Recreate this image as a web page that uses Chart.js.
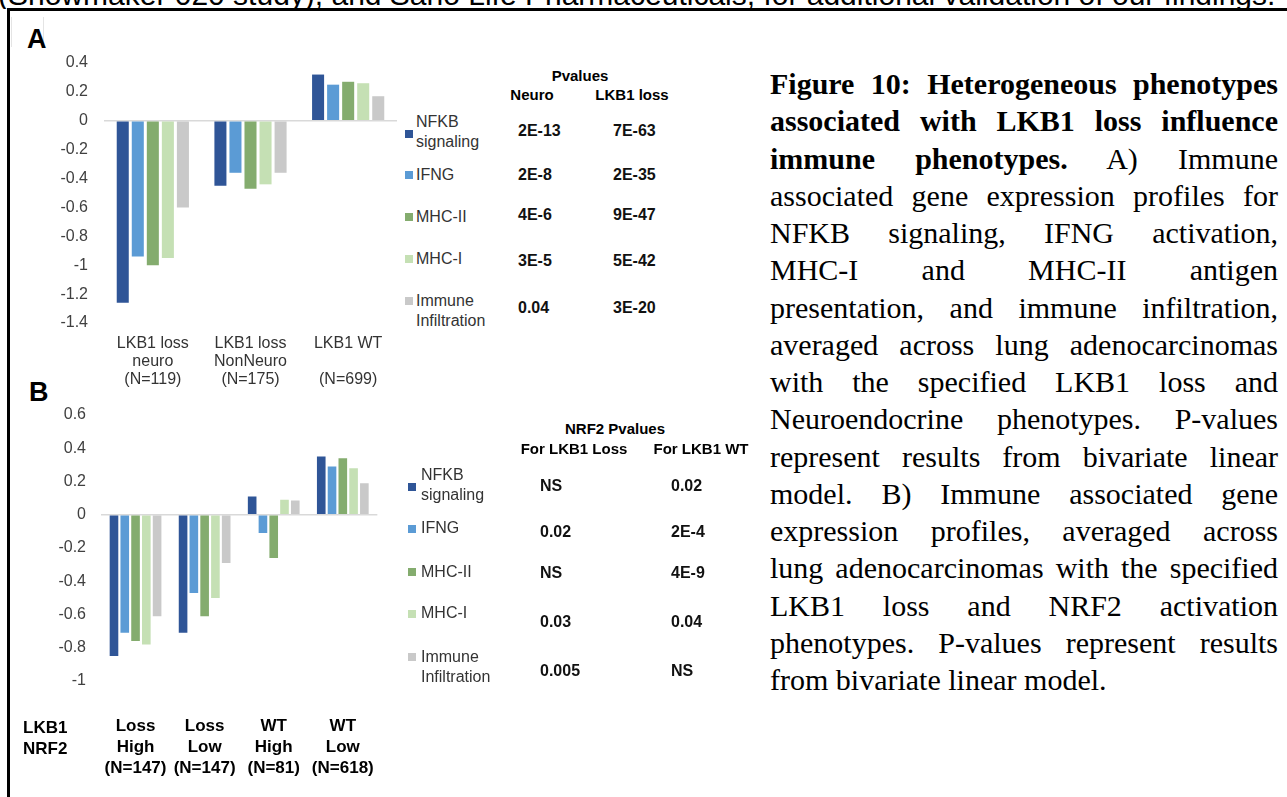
<!DOCTYPE html>
<html lang="en">
<head>
  <meta charset="UTF-8">
  <title>Figure 10: LKB1 loss and immune phenotypes</title>
  <style>
    body { margin: 0; width: 1287px; height: 797px; overflow: hidden; background: #fff; position: relative; font-family: "Liberation Sans", Arial, sans-serif; }
    .abs { position: absolute; }
    #topline { left: 0; top: 0; width: 1287px; height: 9px; overflow: hidden; }
    #topline span { position: absolute; left: -2px; top: -20px; font-size: 30px; line-height: 30px; white-space: nowrap; color: #000; }
    #frame { left: 7px; top: 8px; width: 1300px; height: 900px; border-top: 3px solid #000; border-left: 3px solid #000; }
    .panel { font-weight: bold; font-size: 27px; color: #000; }
    .boxedge { width: 1px; background: #e4e4e4; }
    .leg { font-size: 16px; line-height: 20px; color: #333; white-space: nowrap; }
    .sq { width: 8px; height: 8px; }
    .th { font-weight: bold; font-size: 15px; color: #000; white-space: nowrap; transform: translateX(-50%); }
    .pv { font-weight: bold; font-size: 16px; color: #111; white-space: nowrap; line-height: 20px; }
    .rowlab { font-weight: bold; font-size: 17px; line-height: 21px; color: #000; }
    #caption { left: 770px; top: 65px; width: 508px; font-family: "Liberation Serif", "Times New Roman", serif; font-size: 30px; line-height: 37.25px; color: #000; }
    #caption div { text-align: justify; text-align-last: justify; white-space: nowrap; }
    #caption div.last { text-align-last: left; }
  </style>
  <script src="https://cdn.jsdelivr.net/npm/chart.js@4.4.0/dist/chart.umd.min.js"></script>
</head>
<body>
  <div id="topline" class="abs"><span>(Snowmaker 020 study), and Sano Life Pharmaceuticals, for additional validation of our findings.</span></div>
  <div id="frame" class="abs"></div>

  <div class="abs boxedge" style="left:11px;top:17px;height:30px"></div>
  <div class="abs boxedge" style="left:43px;top:17px;height:30px"></div>
  <div class="abs boxedge" style="left:43px;top:383px;height:18px"></div>
  <div class="abs panel" style="left:27px;top:24px">A</div>
  <div class="abs panel" style="left:29px;top:377px">B</div>

  <canvas id="chartA" class="abs" width="385" height="345" style="left:20px;top:45px"></canvas>
  <canvas id="chartB" class="abs" width="390" height="384" style="left:20px;top:395px"></canvas>

  <div id="legA"></div>
  <div id="legB"></div>

  <div class="abs rowlab" style="left:23px;top:717px">LKB1<br>NRF2</div>

  <div id="caption" class="abs">
    <div><b>Figure 10: Heterogeneous phenotypes</b></div>
    <div><b>associated with LKB1 loss influence</b></div>
    <div><b>immune phenotypes.</b> A) Immune</div>
    <div>associated gene expression profiles for</div>
    <div>NFKB signaling, IFNG activation,</div>
    <div>MHC-I and MHC-II antigen</div>
    <div>presentation, and immune infiltration,</div>
    <div>averaged across lung adenocarcinomas</div>
    <div>with the specified LKB1 loss and</div>
    <div>Neuroendocrine phenotypes. P-values</div>
    <div>represent results from bivariate linear</div>
    <div>model. B) Immune associated gene</div>
    <div>expression profiles, averaged across</div>
    <div>lung adenocarcinomas with the specified</div>
    <div>LKB1 loss and NRF2 activation</div>
    <div>phenotypes. P-values represent results</div>
    <div class="last">from bivariate linear model.</div>
  </div>

  <script>
    // gene signatures (legend order) and their bar colours
    const signatures = [['NFKB', 'signaling'], ['IFNG'], ['MHC-II'], ['MHC-I'], ['Immune', 'Infiltration']];
    const sigColors = ['#2f5597', '#5b9bd5', '#84ac6e', '#c5e0b4', '#c9c9c9'];

    // panel A: LKB1 loss / neuroendocrine groups
    const groupsA = [['LKB1 loss', 'neuro', '(N=119)'], ['LKB1 loss', 'NonNeuro', '(N=175)'], ['LKB1 WT', '', '(N=699)']];
    const nfkbA = [-1.26, -0.45, 0.32];
    const ifngA = [-0.94, -0.36, 0.25];
    const mhc2A = [-1.0, -0.47, 0.27];
    const mhc1A = [-0.95, -0.44, 0.26];
    const immA = [-0.6, -0.36, 0.17];
    const pNeuroA = ['2E-13', '2E-8', '4E-6', '3E-5', '0.04'];
    const pLossA = ['7E-63', '2E-35', '9E-47', '5E-42', '3E-20'];

    // panel B: LKB1 status x NRF2 activation
    const groupsB = [['Loss', 'High', '(N=147)'], ['Loss', 'Low', '(N=147)'], ['WT', 'High', '(N=81)'], ['WT', 'Low', '(N=618)']];
    const nfkbB = [-0.85, -0.71, 0.11, 0.35];
    const ifngB = [-0.71, -0.47, -0.11, 0.29];
    const mhc2B = [-0.76, -0.61, -0.26, 0.34];
    const mhc1B = [-0.78, -0.5, 0.09, 0.28];
    const immB = [-0.61, -0.29, 0.085, 0.19];
    const pLossB = ['NS', '0.02', 'NS', '0.03', '0.005'];
    const pWtB = ['0.02', '2E-4', '4E-9', '0.04', 'NS'];

    const tickFmt = v => String(Math.round(v * 10) / 10);

    function makeBarChart(id, labels, series, opt) {
      return new Chart(document.getElementById(id), {
        type: 'bar',
        data: {
          labels: labels,
          datasets: series.map((d, i) => ({
            label: signatures[i].join(' '),
            data: d,
            backgroundColor: sigColors[i],
            borderWidth: 0,
            categoryPercentage: opt.catPct,
            barPercentage: 0.8
          }))
        },
        options: {
          responsive: false,
          animation: false,
          devicePixelRatio: 1,
          layout: { padding: { top: opt.padTop, right: opt.padRight, left: 0, bottom: 0 } },
          plugins: { legend: { display: false }, tooltip: { enabled: false } },
          scales: {
            x: {
              grid: { display: false, drawTicks: false },
              border: { display: false },
              ticks: {
                color: opt.xColor,
                font: { family: 'Liberation Sans', size: opt.xSize, weight: opt.xWeight, lineHeight: opt.xLine },
                padding: opt.xPad,
                maxRotation: 0,
                autoSkip: false
              },
              afterFit: s => { s.height = opt.xHeight; }
            },
            y: {
              min: opt.min,
              max: opt.max,
              grid: {
                // invisible tick marks keep the labels off the plot without padding the top
                drawTicks: true,
                tickLength: opt.yGap,
                tickColor: 'rgba(0,0,0,0)',
                lineWidth: 1.5,
                color: c => (c.tick && Math.abs(c.tick.value) < 1e-9) ? '#d9d9d9' : 'rgba(0,0,0,0)'
              },
              border: { display: false },
              ticks: {
                stepSize: 0.2,
                color: '#404040',
                font: { family: 'Liberation Sans', size: 16 },
                padding: 0,
                callback: tickFmt
              },
              afterFit: s => { s.width = opt.yWidth; }
            }
          }
        }
      });
    }

    makeBarChart('chartA', groupsA, [nfkbA, ifngA, mhc2A, mhc1A, immA], {
      catPct: 0.77, padTop: 18, padRight: 8, min: -1.4, max: 0.4,
      xColor: '#333', xSize: 16, xWeight: 'normal', xLine: 1.15, xPad: 11, xHeight: 67,
      yGap: 16, yWidth: 84
    });

    makeBarChart('chartB', groupsB, [nfkbB, ifngB, mhc2B, mhc1B, immB], {
      catPct: 0.78, padTop: 20, padRight: 10, min: -1, max: 0.6,
      xColor: '#000', xSize: 17, xWeight: 'bold', xLine: 1.24, xPad: 35, xHeight: 98,
      yGap: 15, yWidth: 81
    });

    // legend + p-value tables next to each chart
    function place(parent, cls, left, top, html, style) {
      const el = document.createElement('div');
      el.className = 'abs ' + cls;
      el.style.left = left + 'px';
      el.style.top = top + 'px';
      if (style) Object.assign(el.style, style);
      el.innerHTML = html;
      parent.appendChild(el);
      return el;
    }

    function buildSide(id, cfg) {
      const box = document.getElementById(id);
      signatures.forEach((lines, i) => {
        place(box, 'sq', cfg.sqX, cfg.sqY[i] - 4, '', { background: sigColors[i] });
        place(box, 'leg', cfg.txtX, cfg.txtY[i], lines.join('<br>'));
        place(box, 'pv', cfg.col1, cfg.rowY[i] - 10, cfg.p1[i]);
        place(box, 'pv', cfg.col2, cfg.rowY[i] - 10, cfg.p2[i]);
      });
      cfg.heads.forEach(h => place(box, 'th', h[1], h[2] - 9, h[0]));
    }

    buildSide('legA', {
      sqX: 405, sqY: [133.5, 175, 217, 259, 301],
      txtX: 416, txtY: [112, 165, 207, 249, 291],
      col1: 518, col2: 613, rowY: [131, 175, 215, 261, 308],
      p1: pNeuroA, p2: pLossA,
      heads: [['Pvalues', 580, 76], ['Neuro', 532, 95], ['LKB1 loss', 632, 95]]
    });

    buildSide('legB', {
      sqX: 408, sqY: [487, 529, 572, 614, 657],
      txtX: 421, txtY: [465, 518, 562, 603, 647],
      col1: 540, col2: 671, rowY: [486, 532, 573, 622, 671],
      p1: pLossB, p2: pWtB,
      heads: [['NRF2 Pvalues', 615, 429], ['For LKB1 Loss', 574, 449], ['For LKB1 WT', 701, 449]]
    });
  </script>
</body>
</html>
